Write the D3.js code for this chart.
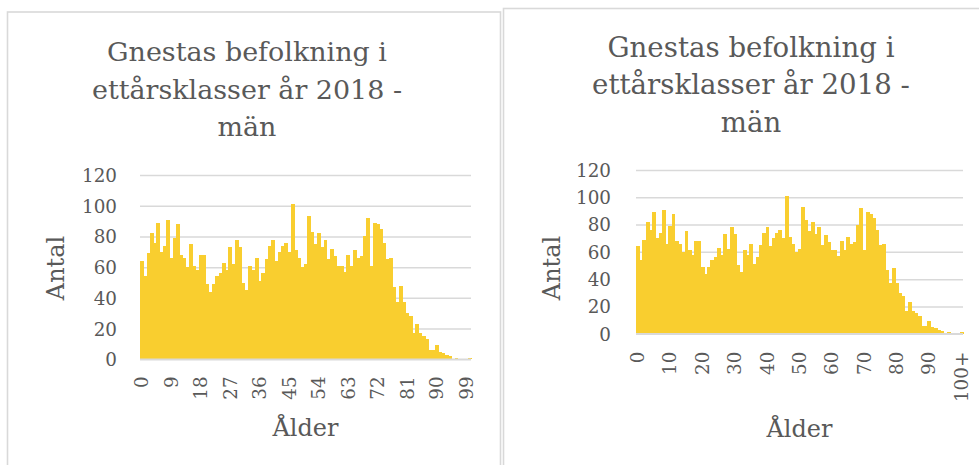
<!DOCTYPE html>
<html>
<head>
<meta charset="utf-8">
<script src="https://cdn.jsdelivr.net/npm/d3@7"></script>
<style>
  html, body { margin: 0; padding: 0; background: #ffffff; }
  svg { display: block; }
  text { font-family: "DejaVu Serif", "Liberation Serif", serif; fill: #595959; }
</style>
</head>
<body>
<svg id="chart" width="979" height="465"></svg>
<script>
// ---------------- DATA ----------------
const ages = d3.range(0, 100).map(String).concat(["100+"]);
const men = [
  64, 54, 69, 82, 76, 89, 70, 74, 91, 66,
  79, 88, 68, 66, 60, 75, 61, 58, 68, 68,
  49, 44, 49, 54, 56, 63, 58, 73, 62, 78,
  73, 50, 45, 61, 58, 66, 51, 56, 65, 74,
  78, 64, 70, 74, 76, 70, 101, 71, 66, 60,
  62, 93, 83, 75, 82, 73, 78, 65, 72, 67,
  61, 61, 57, 68, 61, 71, 66, 67, 80, 92,
  61, 89, 88, 85, 76, 65, 66, 47, 37, 48,
  37, 30, 28, 17, 23, 17, 15, 13, 6, 6,
  9, 5, 4, 3, 2, 0, 1, 0, 0, 0,
  1
];
const yTickValues = [0, 20, 40, 60, 80, 100, 120];
const leftXTickLabels = ["0", "9", "18", "27", "36", "45", "54", "63", "72", "81", "90", "99"];
const rightXTickLabels = ["0", "10", "20", "30", "40", "50", "60", "70", "80", "90", "100+"];
const titleLines = ["Gnestas befolkning i", "ettårsklasser år 2018 -", "män"];
const xTitle = "Ålder";
const yTitle = "Antal";

// ---------------- STYLE ----------------
const barColor = "#F9CE2F";
const gridColor = "#D9D9D9";
const borderColor = "#D9D9D9";

const svg = d3.select("#chart");

// helper: size text so its rendered width matches a target width
function fitFont(sel, targetWidth) {
  sel.style("font-size", "100px");
  const w = sel.node().getComputedTextLength();
  const fs = 100 * targetWidth / w;
  sel.style("font-size", fs + "px");
  return fs;
}

function drawChart(cfg) {
  const g = svg.append("g");

  // panel border
  g.append("rect")
    .attr("x", cfg.panel[0]).attr("y", cfg.panel[1])
    .attr("width", cfg.panel[2]).attr("height", cfg.panel[3])
    .attr("fill", "none")
    .attr("stroke", borderColor)
    .attr("stroke-width", 1.6);

  const x = d3.scaleBand().domain(ages).range([cfg.plotX0, cfg.plotX1]).padding(0);
  const y = d3.scaleLinear().domain([0, 120]).range([cfg.plotY0, cfg.plotYTop]);

  // gridlines
  const grid = g.append("g")
    .attr("transform", `translate(${cfg.plotX0},0)`)
    .call(d3.axisLeft(y).tickValues(yTickValues).tickSize(-(cfg.plotX1 - cfg.plotX0)).tickFormat(""));
  grid.select(".domain").remove();
  grid.selectAll("line").attr("stroke", gridColor).attr("stroke-width", 1.5);

  // bars
  g.append("g")
    .attr("shape-rendering", "crispEdges")
    .selectAll("rect")
    .data(men)
    .join("rect")
    .attr("x", (d, i) => x(ages[i]))
    .attr("width", x.bandwidth() + 0.6)
    .attr("y", d => y(d))
    .attr("height", d => y(0) - y(d))
    .attr("fill", barColor);

  // baseline
  g.append("line")
    .attr("x1", cfg.plotX0).attr("x2", cfg.plotX1)
    .attr("y1", y(0)).attr("y2", y(0))
    .attr("stroke", gridColor).attr("stroke-width", 1.5);

  // y tick labels
  const yAxis = g.append("g")
    .attr("transform", `translate(${cfg.yLabelRight},0)`)
    .call(d3.axisLeft(y).tickValues(yTickValues).tickSize(0).tickPadding(0));
  yAxis.select(".domain").remove();
  yAxis.selectAll("text")
    .attr("fill", "#595959")
    .style("font-family", '"DejaVu Serif", serif')
    .style("font-size", cfg.tickFont + "px")
    .attr("dy", "0.35em");

  // x tick labels (rotated)
  const xAxis = g.append("g")
    .attr("transform", `translate(0,${y(0)})`)
    .call(d3.axisBottom(x).tickValues(cfg.xTicks).tickSize(0));
  xAxis.select(".domain").remove();
  xAxis.selectAll("text")
    .attr("fill", "#595959")
    .style("font-family", '"DejaVu Serif", serif')
    .style("font-size", cfg.tickFont + "px")
    .attr("transform", "rotate(-90)")
    .attr("text-anchor", "end")
    .attr("x", -cfg.xLabelOffset)
    .attr("y", 0)
    .attr("dy", "0.35em");

  // title
  const t = g.append("text")
    .attr("text-anchor", "middle")
    .style("font-size", cfg.titleFont + "px");
  titleLines.forEach((line, i) => {
    t.append("tspan")
      .attr("x", cfg.titleX)
      .attr("y", cfg.titleY + i * cfg.titleLH)
      .text(line);
  });

  // axis titles
  g.append("text")
    .attr("text-anchor", "middle")
    .attr("x", (cfg.plotX0 + cfg.plotX1) / 2)
    .attr("y", cfg.xTitleY)
    .style("font-size", cfg.axisFont + "px")
    .text(xTitle);

  g.append("text")
    .attr("text-anchor", "middle")
    .attr("transform", `translate(${cfg.yTitleX},${cfg.yTitleY}) rotate(-90)`)
    .style("font-size", cfg.axisFont + "px")
    .text(yTitle);
}

// measure font sizes with DejaVu Serif to match reference widths
const probe = svg.append("text");
probe.text("Gnestas befolkning i");
const titleFontL = fitFont(probe, 280);
const titleFontR = fitFont(probe, 287);
probe.text("Ålder");
const axisFont = fitFont(probe, 66);
probe.text("120");
const tickFont = fitFont(probe, 35);
probe.remove();

drawChart({
  panel: [7.5, 12, 493, 470],
  plotX0: 140, plotX1: 471, plotY0: 359.3, plotYTop: 175,
  yLabelRight: 117,
  xTicks: leftXTickLabels,
  xLabelOffset: 17,
  tickFont: tickFont,
  titleFont: titleFontL, titleX: 247, titleY: 61, titleLH: 37.6,
  axisFont: axisFont, xTitleY: 436,
  yTitleX: 64, yTitleY: 268
});

drawChart({
  panel: [503.5, 8.5, 490, 470],
  plotX0: 636, plotX1: 963, plotY0: 333.7, plotYTop: 170,
  yLabelRight: 611,
  xTicks: rightXTickLabels,
  xLabelOffset: 18,
  tickFont: tickFont,
  titleFont: titleFontR, titleX: 751, titleY: 56.5, titleLH: 37.8,
  axisFont: axisFont, xTitleY: 437,
  yTitleX: 560, yTitleY: 268
});
</script>
</body>
</html>
